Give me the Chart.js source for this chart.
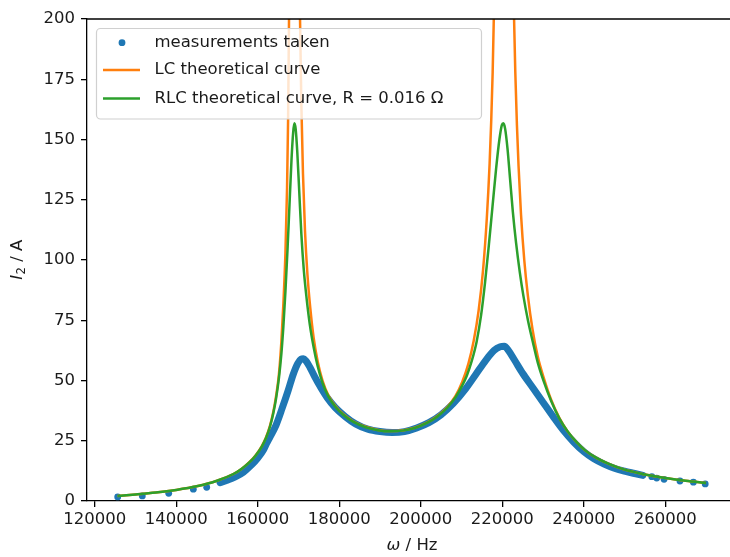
<!DOCTYPE html>
<html>
<head>
<meta charset="utf-8">
<script src="https://cdn.jsdelivr.net/npm/chart.js@4/dist/chart.umd.min.js"></script>
<style>
  html, body { margin: 0; padding: 0; background: #fff; overflow: hidden; }
  canvas { display: block; }
</style>
</head>
<body>
<canvas id="chart" width="744" height="557"></canvas>
<script>
// tick labels
const xTicks = [120000, 140000, 160000, 180000, 200000, 220000, 240000, 260000];
const yTicks = [0, 25, 50, 75, 100, 125, 150, 175, 200];

// measurements: isolated points at the ends
const measFreqSparse = [125640, 131680, 138160, 144200, 147480, 256700, 257900, 259700, 263600, 266900, 269800];
const measCurrentSparse = [1.7, 2.1, 3.2, 4.9, 5.7, 10.1, 9.5, 9.0, 8.3, 7.8, 7.1];

// measurements: the dense sweep in the middle
const measFreqDense = [150750, 152500, 154500, 156500, 158500, 160000, 161500, 162200, 163000, 164500,
  166000, 167500, 168700, 169800, 170600, 171200, 171800, 172800, 174000, 175500, 177000, 179000,
  181500, 184000, 187000, 190000, 193000, 196000, 199000, 202000, 205000, 208000, 211000, 213500,
  216000, 218000, 219500, 220500, 221500, 223000, 225000, 227500, 230000, 232500, 235000, 237500,
  240000, 242500, 245000, 247500, 250000, 252500, 254500];
const measCurrentDense = [7.6, 8.6, 10, 12, 15, 17.8, 21.5, 24, 26.5, 31.5,
  38.5, 46, 52.5, 57, 58.8, 59, 58.2, 55.5, 51.5, 47, 43, 38.8,
  35, 32, 29.8, 28.8, 28.4, 28.8, 30.3, 32.5, 35.8, 40.5, 46.5, 52.5,
  58.5, 62.5, 64, 64.2, 62.5, 58.5, 53, 47, 41, 35, 29.3, 24.5,
  20.5, 17.5, 15.3, 13.6, 12.4, 11.4, 10.6];

// LC theoretical curve
const lcFreq = [125600, 130000, 135000, 140000, 145000, 150000, 154000, 156000, 158000, 159500,
  161000, 162000, 163000, 163800, 164500, 165200, 165800, 166300, 166800, 167200, 167450,
  167680, 167900, 168300, 169750, 170100, 170380, 170700, 171100, 171600, 172200, 172900,
  173700, 174700, 175900, 177300, 179000, 181000, 183500, 186500, 189500, 192500, 195500,
  198500, 201500, 204000, 206500, 208500, 210200, 211700, 213000, 214200, 215300, 216200,
  216900, 217300, 217650, 217900, 218200, 218700, 219200, 221600, 222100, 222600, 222900,
  223200, 223600, 224000, 224600, 225400, 226300, 227400, 228700, 230200, 232000, 234000,
  236000, 238300, 240500, 243000, 246000, 250000, 255000, 260000, 265000, 270000];
const lcCurrent = [2.1, 2.7, 3.5, 4.6, 6.1, 8.4, 11.2, 13.3, 16.2, 19.0,
  22.8, 26.3, 31.2, 36.8, 43.5, 52.5, 66, 82, 103, 130, 158,
  200, 250, 400, 400, 250, 200, 165, 136, 112, 94, 80,
  68, 58, 50, 44, 39.5, 36, 33, 30.8, 29.5, 29, 29.3,
  30.4, 32.5, 35.2, 39, 43.5, 49.5, 57, 66.5, 79, 96, 117,
  140, 158, 178, 198, 230, 330, 500, 500, 330, 230, 200,
  178, 156, 139, 119, 100, 85, 71.5, 60, 51, 42, 34.5,
  29, 24.3, 20.8, 18, 15.5, 13, 11, 9.5, 8.4, 7.5];

// RLC theoretical curve, R = 0.016 Ohm
const rlcFreq = [125600, 130000, 135000, 140000, 145000, 150000, 154000, 156000, 158000, 159500,
  161000, 162000, 163000, 163800, 164500, 165200, 165800, 166300, 166800, 167300, 167800,
  168300, 168700, 168980, 169300, 169700, 170200, 170700, 171300, 172000, 172800, 173700,
  174700, 175900, 177300, 179000, 181000, 183500, 186500, 189500, 192500, 195500, 198500,
  201500, 204000, 206500, 208500, 210200, 211300, 212500, 213700, 214800, 215800, 216700,
  217600, 218500, 219300, 219900, 220270, 220700, 221300, 221900, 222600, 223400, 224300,
  225200, 226300, 227500, 228700, 230200, 232000, 234000, 236000, 238300, 240500, 243000,
  246000, 250000, 255000, 260000, 265000, 270000];
const rlcCurrent = [2.1, 2.7, 3.5, 4.6, 6.1, 8.4, 11.2, 13.3, 16.1, 18.9,
  22.6, 26, 30.8, 36.2, 42.5, 51, 61, 72.5, 87, 104, 123,
  142, 153, 156.7, 154.5, 145, 128, 111, 96, 84, 73, 64,
  56, 49, 43.5, 39.2, 35.8, 32.8, 30.6, 29.4, 28.9, 29.2, 30.3,
  32.4, 35, 38.7, 43, 48, 52, 58, 66, 77, 91, 106,
  122, 138, 150, 156, 156.7, 154.5, 146, 134, 120, 107, 95,
  85, 75, 66, 57.5, 49.5, 41.5, 34.3, 29, 24.3, 20.8, 18,
  15.5, 13, 11, 9.5, 8.4, 7.5];

const xMin = 118110;
const xMax = 277600;

const FONT = "'DejaVu Sans', sans-serif";
const FONT_SIZE = 16.5;

function toPoints(xs, ys) {
  return xs.map((x, i) => ({ x: x, y: ys[i] }));
}

// top spine, axis titles and the in-axes legend
const decorations = {
  id: "decorations",
  afterDraw(chart) {
    const ctx = chart.ctx;
    const area = chart.chartArea;
    ctx.save();

    ctx.strokeStyle = "#000";
    ctx.lineWidth = 1.3;
    ctx.beginPath();
    ctx.moveTo(area.left, area.top);
    ctx.lineTo(area.right, area.top);
    ctx.stroke();

    // x title: ω / Hz
    ctx.fillStyle = "#1a1a1a";
    ctx.textBaseline = "middle";
    ctx.textAlign = "left";
    const italic = "italic " + FONT_SIZE + "px " + FONT;
    const normal = FONT_SIZE + "px " + FONT;
    ctx.font = italic;
    const wOmega = ctx.measureText("ω").width;
    ctx.font = normal;
    const wHz = ctx.measureText(" / Hz").width;
    let x0 = (area.left + area.right) / 2 - (wOmega + wHz) / 2;
    ctx.font = italic;
    ctx.fillText("ω", x0, 546);
    ctx.font = normal;
    ctx.fillText(" / Hz", x0 + wOmega, 546);

    // y title: I2 / A
    ctx.save();
    ctx.translate(18, (area.top + area.bottom) / 2);
    ctx.rotate(-Math.PI / 2);
    const sub = (FONT_SIZE * 0.7) + "px " + FONT;
    ctx.font = italic;
    const wI = ctx.measureText("I").width;
    ctx.font = sub;
    const w2 = ctx.measureText("2").width;
    ctx.font = normal;
    const wA = ctx.measureText(" / A").width;
    x0 = -(wI + w2 + wA) / 2;
    ctx.font = italic;
    ctx.fillText("I", x0, 0);
    ctx.font = sub;
    ctx.fillText("2", x0 + wI + 0.5, 4);
    ctx.font = normal;
    ctx.fillText(" / A", x0 + wI + w2 + 0.5, 0);
    ctx.restore();

    // legend
    ctx.beginPath();
    ctx.roundRect(96.5, 28.5, 385, 90.5, 4);
    ctx.fillStyle = "rgba(255,255,255,0.8)";
    ctx.fill();
    ctx.strokeStyle = "#d0d0d0";
    ctx.lineWidth = 1.2;
    ctx.stroke();

    const ds = chart.data.datasets;
    const rows = [
      { set: ds[0], y: 42.7 },
      { set: ds[2], y: 70 },
      { set: ds[3], y: 98.5 },
    ];
    rows.forEach((row, i) => {
      if (i === 0) {
        ctx.fillStyle = row.set.backgroundColor;
        ctx.beginPath();
        ctx.arc(122, row.y, 3.4, 0, Math.PI * 2);
        ctx.fill();
      } else {
        ctx.strokeStyle = row.set.borderColor;
        ctx.lineWidth = 2.5;
        ctx.beginPath();
        ctx.moveTo(103, row.y);
        ctx.lineTo(140, row.y);
        ctx.stroke();
      }
      ctx.fillStyle = "#1a1a1a";
      ctx.font = normal;
      ctx.fillText(row.set.label, 154.5, row.y);
    });

    ctx.restore();
  },
};

const blue = "#1f77b4";
const orange = "#ff7f0e";
const green = "#2ca02c";

new Chart(document.getElementById("chart"), {
  type: "scatter",
  data: {
    datasets: [
      {
        label: "measurements taken",
        data: toPoints(measFreqSparse, measCurrentSparse),
        showLine: false,
        pointRadius: 3.4,
        pointBorderWidth: 0,
        backgroundColor: blue,
        borderColor: blue,
        order: 4,
      },
      {
        label: "measurements (sweep)",
        data: toPoints(measFreqDense, measCurrentDense),
        showLine: true,
        borderColor: blue,
        backgroundColor: blue,
        borderWidth: 7,
        borderCapStyle: "round",
        borderJoinStyle: "round",
        cubicInterpolationMode: "monotone",
        pointRadius: 0,
        order: 3,
      },
      {
        label: "LC theoretical curve",
        data: toPoints(lcFreq, lcCurrent),
        showLine: true,
        borderColor: orange,
        backgroundColor: orange,
        borderWidth: 2.5,
        cubicInterpolationMode: "monotone",
        pointRadius: 0,
        clip: 0,
        order: 2,
      },
      {
        label: "RLC theoretical curve, R = 0.016 Ω",
        data: toPoints(rlcFreq, rlcCurrent),
        showLine: true,
        borderColor: green,
        backgroundColor: green,
        borderWidth: 2.5,
        cubicInterpolationMode: "monotone",
        pointRadius: 0,
        clip: 0,
        order: 1,
      },
    ],
  },
  options: {
    responsive: false,
    animation: false,
    layout: { padding: { left: 0, right: 7, top: 19, bottom: 0 } },
    plugins: {
      legend: { display: false },
      tooltip: { enabled: false },
    },
    scales: {
      x: {
        type: "linear",
        min: xMin,
        max: xMax,
        grid: { display: true, drawOnChartArea: false, drawTicks: true, tickLength: 6, color: "#000", lineWidth: 1.3 },
        border: { display: true, color: "#000", width: 1.3 },
        ticks: {
          font: { family: FONT, size: FONT_SIZE },
          color: "#1a1a1a",
          padding: 3,
          maxRotation: 0,
          autoSkip: false,
          callback: (v) => String(v),
        },
        afterBuildTicks: (scale) => {
          scale.ticks = xTicks.map((v) => ({ value: v }));
        },
        afterFit: (scale) => {
          scale.height = 56;
        },
      },
      y: {
        type: "linear",
        min: 0,
        max: 200,
        grid: { display: true, drawOnChartArea: false, drawTicks: true, tickLength: 6, color: "#000", lineWidth: 1.3 },
        border: { display: true, color: "#000", width: 1.3 },
        ticks: {
          font: { family: FONT, size: FONT_SIZE },
          color: "#1a1a1a",
          padding: 6,
          autoSkip: false,
          callback: (v) => String(v),
        },
        afterBuildTicks: (scale) => {
          scale.ticks = yTicks.map((v) => ({ value: v }));
        },
        afterFit: (scale) => {
          scale.width = 87;
        },
      },
    },
  },
  plugins: [decorations],
});
</script>
</body>
</html>
